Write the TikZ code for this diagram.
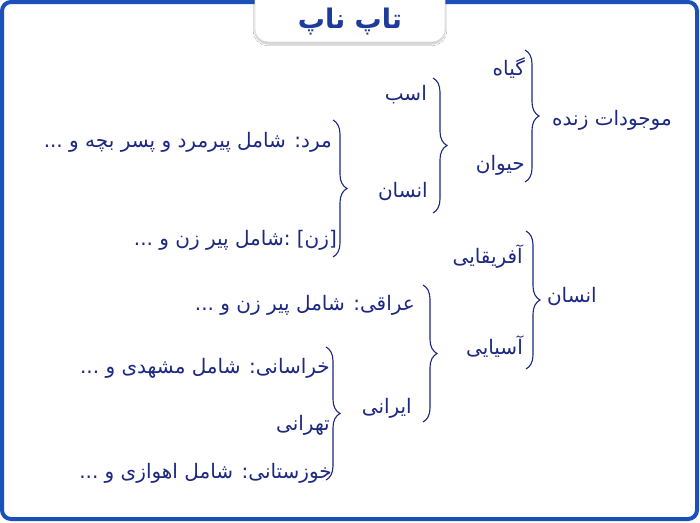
\documentclass[tikz,border=0pt]{standalone}
\usepackage{fontspec}
\usetikzlibrary{decorations.pathreplacing,shadows.blur}
\TeXXeTstate=1
\newfontfamily\fa[Script=Arabic]{DejaVu Sans}
\definecolor{frameblue}{RGB}{27,79,186}
\definecolor{txt}{RGB}{28,40,130}
\definecolor{ttl}{RGB}{30,58,154}
\begin{document}
\begin{tikzpicture}[x=1pt,y=-1pt,
  lbl/.style={anchor=east,inner sep=0pt,text=txt,font=\fa\fontsize{20}{24}\selectfont},
  brc/.style={draw=txt,line width=1.1pt,decorate,decoration={brace,amplitude=14pt}}]
\useasboundingbox (0,0) rectangle (700,522);
\fill[white] (0,0) rectangle (700,522);
\draw[frameblue,line width=4pt,rounded corners=9pt] (2,2) rectangle (697,519);
\path[fill=white,draw=black!12,line width=0.6pt,rounded corners=13pt,
  blur shadow={shadow xshift=0pt,shadow yshift=-2pt,shadow blur steps=8,shadow opacity=25}]
  (255,-20) rectangle (445,42);
\node[text=ttl,font=\fa\bfseries\fontsize{27}{32}\selectfont] (title) at (350,22) {\beginR تاپ ناپ\endR};
% group 1
\node[lbl] (mz) at (672,120) {\beginR موجودات زنده\endR};
\node[lbl] (giah) at (525,68) {\beginR گیاه\endR};
\node[lbl] (heyvan) at (525,165) {\beginR حیوان\endR};
\node[lbl] (asb) at (427,95) {\beginR اسب\endR};
\node[lbl] (ensan1) at (428,192) {\beginR انسان\endR};
\node[lbl] (mard) at (332,142) {\beginR مرد: شامل پیرمرد و پسر بچه و ...\endR};
\node[lbl] (zan) at (337,240) {\beginR [زن] :شامل پیر زن و ...\endR};
% group 2
\node[lbl] (ensan2) at (597,297) {\beginR انسان\endR};
\node[lbl] (afr) at (523,257) {\beginR آفریقایی\endR};
\node[lbl] (asia) at (523,347) {\beginR آسیایی\endR};
\node[lbl] (eraghi) at (415,305) {\beginR عراقی: شامل پیر زن و ...\endR};
\node[lbl] (irani) at (412,408) {\beginR ایرانی\endR};
\node[lbl] (khor) at (330,368) {\beginR خراسانی: شامل مشهدی و ...\endR};
\node[lbl] (teh) at (330,425) {\beginR تهرانی\endR};
\node[lbl] (khuz) at (332,473) {\beginR خوزستانی: شامل اهوازی و ...\endR};
% braces
\coordinate (b1t) at (525,50);  \coordinate (b1b) at (525,182);
\coordinate (b2t) at (433,78);  \coordinate (b2b) at (433,213);
\coordinate (b3t) at (333,120); \coordinate (b3b) at (333,257);
\coordinate (b4t) at (526,231); \coordinate (b4b) at (526,369);
\coordinate (b5t) at (423,285); \coordinate (b5b) at (423,422);
\coordinate (b6t) at (326,347); \coordinate (b6b) at (326,480);
\draw[brc] (b1t) -- (b1b);
\draw[brc] (b2t) -- (b2b);
\draw[brc] (b3t) -- (b3b);
\draw[brc] (b4t) -- (b4b);
\draw[brc] (b5t) -- (b5b);
\draw[brc] (b6t) -- (b6b);
\end{tikzpicture}
\end{document}
